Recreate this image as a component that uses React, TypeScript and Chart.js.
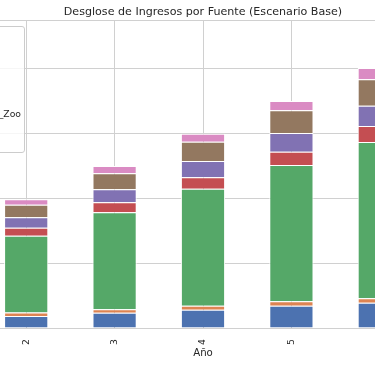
import React, { useEffect, useRef } from "react";
import { Chart, registerables } from "chart.js";

Chart.register(...registerables);

const years = ["2", "3", "4", "5", "6"];
const seriesNames = ["Entradas", "Parking", "Comida", "Tienda", "Amigos_del_Zoo", "Eventos", "Donaciones"];
const entradas = [9.2, 11.8, 14.1, 17.2, 19.5];
const parking = [2.7, 2.6, 3.1, 3.4, 3.4];
const comida = [59.1, 74.6, 90.0, 104.8, 120.2];
const tienda = [6.2, 7.7, 8.8, 10.2, 12.3];
const amigos = [8.0, 10.0, 12.5, 14.4, 15.6];
const eventos = [9.7, 12.3, 14.8, 17.5, 20.3];
const donaciones = [4.2, 5.6, 6.2, 7.2, 8.7];
const yTicks = [0, 50, 100, 150, 200];
const Y_MAX = 236.92;

const colors = ["#4C72B0", "#DD8452", "#55A868", "#C44E52", "#8172B3", "#937860", "#DA8BC3"];
const seriesValues = [entradas, parking, comida, tienda, amigos, eventos, donaciones];
const TEXT = "#262626";
const GRID = "#d0d0d0";
const FONT = "'DejaVu Sans', sans-serif";

export default function App() {
  const ref = useRef<HTMLCanvasElement | null>(null);

  useEffect(() => {
    if (!ref.current) return;
    const chart = new Chart(ref.current, {
      type: "bar",
      data: {
        labels: years,
        datasets: seriesNames.map((name, i) => ({
          label: name,
          data: seriesValues[i],
          backgroundColor: colors[i],
          borderColor: "#ffffff",
          borderWidth: 1,
          barPercentage: 0.5,
          categoryPercentage: 1,
        })),
      },
      options: {
        responsive: false,
        animation: false,
        layout: { padding: { left: 0, right: 10, top: 0, bottom: 2.4 } },
        plugins: {
          legend: { display: false },
          tooltip: { enabled: false },
          title: {
            display: true,
            fullSize: false,
            text: "Desglose de Ingresos por Fuente (Escenario Base)",
            color: TEXT,
            font: { family: FONT, size: 11.1, weight: "normal" },
            padding: { top: 5.8, bottom: 0.9 },
          },
        },
        scales: {
          x: {
            stacked: true,
            grid: { color: GRID, lineWidth: 1, offset: false, drawTicks: false },
            border: { color: GRID, width: 1 },
            ticks: {
              color: TEXT,
              font: { family: FONT, size: 9.25 },
              minRotation: 90,
              maxRotation: 90,
              padding: 11,
            },
            title: {
              display: true,
              text: "Año",
              color: TEXT,
              font: { family: FONT, size: 10.2 },
              padding: { top: 2.5, bottom: 4 },
            },
            afterFit: (scale: any) => {
              scale.height = 35.6;
            },
          },
          y: {
            stacked: true,
            min: 0,
            max: Y_MAX,
            grid: { color: GRID, lineWidth: 1, drawTicks: false },
            border: { display: false },
            ticks: {
              color: TEXT,
              font: { family: FONT, size: 9.25 },
              callback: (v: any) => (yTicks.includes(Number(v)) ? String(v) : ""),
            },
            afterBuildTicks: (scale: any) => {
              scale.ticks = [...yTicks, Y_MAX].map((value) => ({ value }));
            },
            afterFit: (scale: any) => {
              scale.width = 50;
            },
          },
        },
      },
    });
    return () => chart.destroy();
  }, []);

  return (
    <div
      style={{
        position: "fixed",
        left: 0,
        top: 0,
        width: 375,
        height: 366,
        overflow: "hidden",
        background: "#ffffff",
      }}
    >
      <canvas
        ref={ref}
        width={502}
        height={366}
        style={{ position: "absolute", left: -68, top: 0, width: 502, height: 366 }}
      />
      <div
        style={{
          position: "absolute",
          right: 350,
          top: 26,
          border: "1px solid #cccccc",
          borderRadius: 3,
          background: "rgba(255,255,255,0.8)",
          padding: "1.6px 3px 0.2px 3.7px",
          fontFamily: FONT,
          fontSize: 9.25,
          color: TEXT,
          zIndex: 2,
        }}
      >
        <div style={{ height: 15.4, lineHeight: "15.4px", textAlign: "center", whiteSpace: "nowrap" }}>Fuente</div>
        {seriesNames.map((name, i) => (
          <div key={name} style={{ height: 15.4, display: "flex", alignItems: "center", whiteSpace: "nowrap" }}>
            <span
              style={{
                display: "inline-block",
                width: 18.5,
                height: 6.5,
                background: colors[i],
                marginRight: 7.4,
                flex: "none",
              }}
            />
            <span>{name}</span>
          </div>
        ))}
      </div>
    </div>
  );
}
